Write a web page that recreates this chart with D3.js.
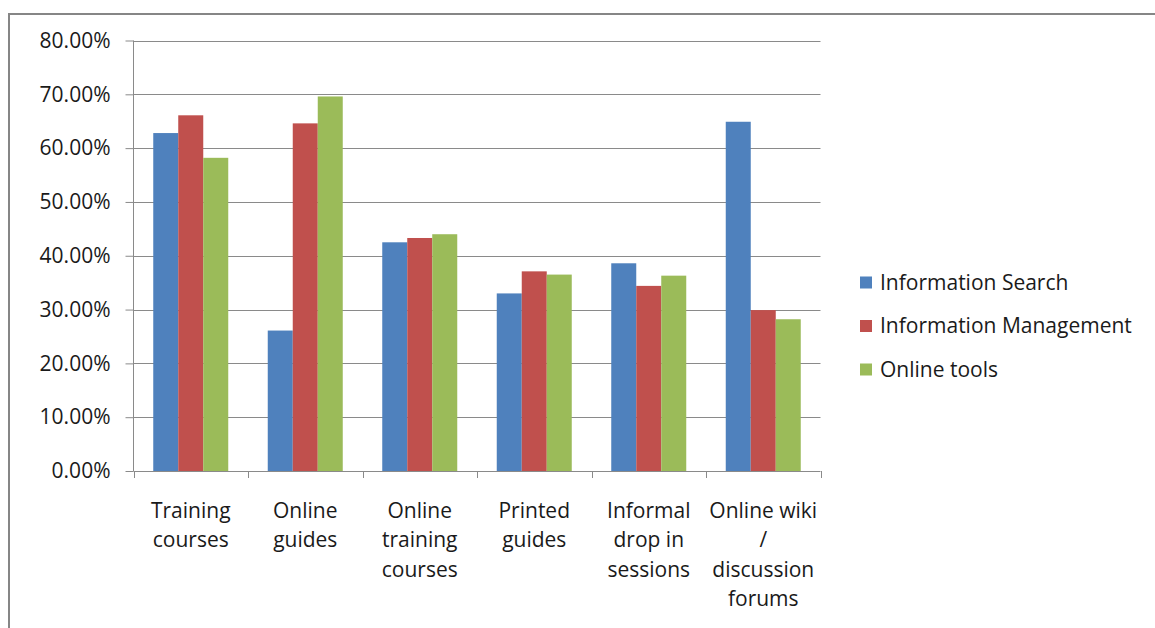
<!DOCTYPE html>
<html>
<head>
<meta charset="utf-8">
<script src="https://cdn.jsdelivr.net/npm/d3@7"></script>
<style>
  html, body { margin: 0; padding: 0; background: #fff; }
  svg { display: block; }
  text { font-family: "Open Sans", "Liberation Sans", sans-serif; fill: #1a1a1a; }
</style>
</head>
<body>
<svg id="chart" width="1155" height="628"></svg>
<script>
// ---- data ----
const categories = [
  "Training courses",
  "Online guides",
  "Online training courses",
  "Printed guides",
  "Informal drop in sessions",
  "Online wiki / discussion forums"
];
const categoryLines = [
  ["Training", "courses"],
  ["Online", "guides"],
  ["Online", "training", "courses"],
  ["Printed", "guides"],
  ["Informal", "drop in", "sessions"],
  ["Online wiki", "/", "discussion", "forums"]
];
const seriesNames = ["Information Search", "Information Management", "Online tools"];
const informationSearch     = [0.628, 0.261, 0.425, 0.330, 0.386, 0.649];
const informationManagement = [0.661, 0.646, 0.433, 0.371, 0.344, 0.299];
const onlineTools           = [0.582, 0.696, 0.440, 0.365, 0.363, 0.282];
const seriesValues = [informationSearch, informationManagement, onlineTools];
const seriesColors = ["#4F81BD", "#C0504D", "#9BBB59"];
const yTicks = [0, 0.1, 0.2, 0.3, 0.4, 0.5, 0.6, 0.7, 0.8];

// ---- layout ----
const svg = d3.select("#chart");
const plot = { left: 133.5, right: 820.5, top: 40.5, bottom: 471 };
const gridColor = "#8a8a8a";

// outer chart border
svg.append("rect")
  .attr("x", 9).attr("y", 14)
  .attr("width", 1160).attr("height", 640)
  .attr("fill", "none").attr("stroke", "#868686").attr("stroke-width", 2);

const x0 = d3.scaleBand().domain(categories).range([plot.left, plot.right]).paddingInner(0).paddingOuter(0);
const x1 = d3.scaleBand().domain(seriesNames).range([0, x0.bandwidth()]).paddingInner(0).paddingOuter(0.79);
const y = d3.scaleLinear().domain([0, 0.8]).range([plot.bottom, plot.top]);

// gridlines
svg.append("g").selectAll("line").data(yTicks.filter(d => d > 0)).join("line")
  .attr("x1", plot.left).attr("x2", plot.right)
  .attr("y1", d => Math.round(y(d)) + 0.5).attr("y2", d => Math.round(y(d)) + 0.5)
  .attr("stroke", gridColor).attr("stroke-width", 1);

// bars
const groups = svg.append("g").selectAll("g").data(categories).join("g")
  .attr("transform", d => `translate(${x0(d)},0)`);
groups.selectAll("rect")
  .data((d, i) => seriesNames.map((s, j) => ({ s, v: seriesValues[j][i], c: seriesColors[j] })))
  .join("rect")
  .attr("x", d => x1(d.s))
  .attr("width", x1.bandwidth())
  .attr("y", d => y(d.v))
  .attr("height", d => y(0) - y(d.v))
  .attr("fill", d => d.c);

// y axis
const yAxis = d3.axisLeft(y).tickValues(yTicks).tickFormat(d3.format(".2%")).tickSize(8).tickPadding(15);
const gy = svg.append("g").attr("transform", `translate(${plot.left},0)`).call(yAxis);
gy.select(".domain").attr("stroke", gridColor).attr("d", `M0.5,${plot.top}V${plot.bottom}`).attr("transform", "translate(-0.5,0)");
gy.selectAll(".tick line").attr("stroke", gridColor);
gy.selectAll(".tick text").style("font-size", "21px").attr("fill", "#1a1a1a")
  .style("font-family", '"Open Sans", "Liberation Sans", sans-serif');

// x axis (ticks at category boundaries)
svg.append("line")
  .attr("x1", plot.left).attr("x2", plot.right)
  .attr("y1", plot.bottom + 0.5).attr("y2", plot.bottom + 0.5)
  .attr("stroke", gridColor);
const boundaries = categories.map(c => x0(c)).concat([plot.right]);
svg.append("g").selectAll("line").data(boundaries).join("line")
  .attr("x1", d => Math.round(d) + 0.5).attr("x2", d => Math.round(d) + 0.5)
  .attr("y1", plot.bottom).attr("y2", plot.bottom + 7)
  .attr("stroke", gridColor);

// category labels
const labels = svg.append("g").selectAll("text").data(categories).join("text")
  .attr("text-anchor", "middle")
  .attr("x", d => x0(d) + x0.bandwidth() / 2)
  .attr("y", 518)
  .style("font-size", "21px");
labels.selectAll("tspan").data((d, i) => categoryLines[i]).join("tspan")
  .attr("x", function() { return d3.select(this.parentNode).attr("x"); })
  .attr("dy", (d, i) => i === 0 ? 0 : 29.3)
  .text(d => d);

// legend
const legend = svg.append("g").selectAll("g").data(seriesNames).join("g")
  .attr("transform", (d, i) => `translate(860, ${282.5 + i * 43.5})`);
legend.append("rect").attr("x", 0).attr("y", -6).attr("width", 12).attr("height", 12)
  .attr("fill", (d, i) => seriesColors[i]);
legend.append("text").attr("x", 20).attr("y", 0).attr("dy", "0.35em")
  .style("font-size", "21px").text(d => d);
</script>
</body>
</html>
